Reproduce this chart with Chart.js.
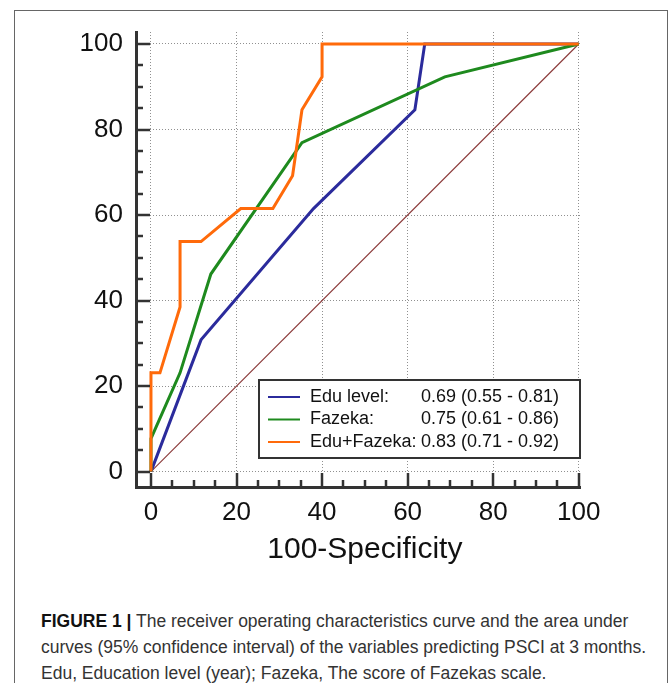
<!DOCTYPE html>
<html>
<head>
<meta charset="utf-8">
<script src="https://cdn.jsdelivr.net/npm/chart.js@4.4.1/dist/chart.umd.min.js"></script>
<style>
html, body { margin: 0; padding: 0; background: #fff; }
body { width: 669px; height: 683px; overflow: hidden; position: relative; font-family: "Liberation Sans", Arial, sans-serif; }
#frame { position: absolute; left: 14px; top: 10px; width: 654px; height: 700px; border: 1px solid #666; box-sizing: border-box; }
#wrap { position: absolute; left: 0; top: 0; width: 669px; height: 590px; }
#caption { position: absolute; left: 41px; top: 608px; font-size: 17.5px; line-height: 26px; color: #333; white-space: nowrap; }
#caption b { color: #111; }
</style>
</head>
<body>
<div id="frame"></div>
<div id="wrap"><canvas id="roc" width="669" height="590"></canvas></div>
<div id="caption">
  <b>FIGURE 1 |</b> The receiver operating characteristics curve and the area under<br>
  curves (95% confidence interval) of the variables predicting PSCI at 3 months.<br>
  Edu, Education level (year); Fazeka, The score of Fazekas scale.
</div>
<script>
// values (100-specificity vs sensitivity)
var eduX   = [0, 11.7, 38.0, 61.7, 64.0, 100];
var eduY   = [0, 30.8, 61.5, 84.6, 100, 100];
var fazX   = [0, 0, 6.8, 14.0, 35.3, 68.7, 100];
var fazY   = [0, 7.7, 23.1, 46.2, 76.9, 92.3, 100];
var comboX = [0, 0, 2.1, 6.8, 6.8, 11.7, 21.0, 28.5, 33.1, 35.3, 40.0, 40.0, 100];
var comboY = [0, 23.1, 23.1, 38.5, 53.8, 53.8, 61.5, 61.5, 69.2, 84.6, 92.3, 100, 100];
var refX   = [0, 100];
var refY   = [0, 100];

var majorTicks = [0, 20, 40, 60, 80, 100];
var minorTicks = [5, 10, 15, 25, 30, 35, 45, 50, 55, 65, 70, 75, 85, 90, 95];

var seriesNames = ["Edu level:", "Fazeka:", "Edu+Fazeka:"];
var seriesAuc   = ["0.69 (0.55 - 0.81)", "0.75 (0.61 - 0.86)", "0.83 (0.71 - 0.92)"];
var seriesColors = ["#2b2b9c", "#1e8a1e", "#ff6a0a"];
var xTitle = "100-Specificity";

var FONT = "'Liberation Sans', Arial, sans-serif";

function pts(xs, ys) {
    var out = [];
    for (var i = 0; i < xs.length; i++) out.push({x: xs[i], y: ys[i]});
    return out;
}

// inward tick marks, long on the 20s and short on the 5s
var tickMarks = {
    id: "tickMarks",
    afterDatasetsDraw: function (chart) {
        var ctx = chart.ctx, a = chart.chartArea;
        var xs = chart.scales.x, ys = chart.scales.y;
        ctx.save();
        ctx.strokeStyle = "#333";
        ctx.lineWidth = 2.5;
        function mark(v, len) {
            var py = Math.round(ys.getPixelForValue(v));
            ctx.beginPath(); ctx.moveTo(a.left, py); ctx.lineTo(a.left + len, py); ctx.stroke();
            var px = Math.round(xs.getPixelForValue(v));
            ctx.beginPath(); ctx.moveTo(px, a.bottom); ctx.lineTo(px, a.bottom - len); ctx.stroke();
        }
        majorTicks.forEach(function (v) { mark(v, 14); });
        minorTicks.forEach(function (v) { mark(v, 7); });
        // axis title, centred on the middle of the 0-100 range
        ctx.fillStyle = "#111";
        ctx.font = "30px " + FONT;
        ctx.textAlign = "center";
        ctx.textBaseline = "middle";
        ctx.fillText(xTitle, xs.getPixelForValue(50), a.bottom + 63);
        ctx.restore();
    }
};

// boxed legend with the AUC column
var aucLegend = {
    id: "aucLegend",
    afterDatasetsDraw: function (chart) {
        var ctx = chart.ctx;
        var bx = 259, by = 380, bw = 321, bh = 78;
        ctx.save();
        ctx.fillStyle = "#fff";
        ctx.fillRect(bx, by, bw, bh);
        ctx.strokeStyle = "#333";
        ctx.lineWidth = 2;
        ctx.strokeRect(bx, by, bw, bh);
        ctx.font = "18px " + FONT;
        ctx.textBaseline = "middle";
        ctx.fillStyle = "#111";
        for (var i = 0; i < seriesNames.length; i++) {
            var ry = by + 17 + i * 22.5;
            ctx.strokeStyle = seriesColors[i];
            ctx.lineWidth = 2;
            ctx.beginPath(); ctx.moveTo(bx + 9, ry); ctx.lineTo(bx + 41, ry); ctx.stroke();
            ctx.fillText(seriesNames[i], bx + 51, ry);
            ctx.fillText(seriesAuc[i], bx + 162, ry);
        }
        ctx.restore();
    }
};

new Chart(document.getElementById("roc"), {
    type: "line",
    data: {
        datasets: [
            {label: "Edu+Fazeka", data: pts(comboX, comboY), borderColor: seriesColors[2], borderWidth: 3, order: 0},
            {label: "Fazeka", data: pts(fazX, fazY), borderColor: seriesColors[1], borderWidth: 3, order: 1},
            {label: "Edu level", data: pts(eduX, eduY), borderColor: seriesColors[0], borderWidth: 3, order: 2},
            {label: "Reference", data: pts(refX, refY), borderColor: "#8b3a3a", borderWidth: 1.2, order: 3}
        ]
    },
    options: {
        responsive: false,
        animation: false,
        parsing: false,
        clip: false,
        elements: {
            point: {radius: 0},
            line: {tension: 0, fill: false, borderJoinStyle: "miter"}
        },
        layout: {padding: {left: 36, top: 32, right: 89, bottom: 13}},
        plugins: {legend: {display: false}, tooltip: {enabled: false}},
        scales: {
            x: {
                type: "linear",
                min: -3.5,
                max: 100.3,
                afterBuildTicks: function (s) { s.ticks = majorTicks.map(function (v) { return {value: v}; }); },
                afterFit: function (s) { s.height = 90; },
                grid: {color: "#909090", lineWidth: 1, drawTicks: false},
                border: {display: true, color: "#333", width: 3, dash: [1, 2]},
                ticks: {color: "#111", padding: 10, maxRotation: 0, autoSkip: false, font: {family: FONT, size: 26}}
            },
            y: {
                type: "linear",
                min: -3.6,
                max: 102.8,
                afterBuildTicks: function (s) { s.ticks = majorTicks.map(function (v) { return {value: v}; }); },
                afterFit: function (s) { s.width = 100; },
                grid: {color: "#909090", lineWidth: 1, drawTicks: false},
                border: {display: true, color: "#333", width: 3, dash: [1, 2]},
                ticks: {color: "#111", padding: 13, autoSkip: false, font: {family: FONT, size: 26}}
            }
        }
    },
    plugins: [tickMarks, aucLegend]
});
</script>
</body>
</html>
